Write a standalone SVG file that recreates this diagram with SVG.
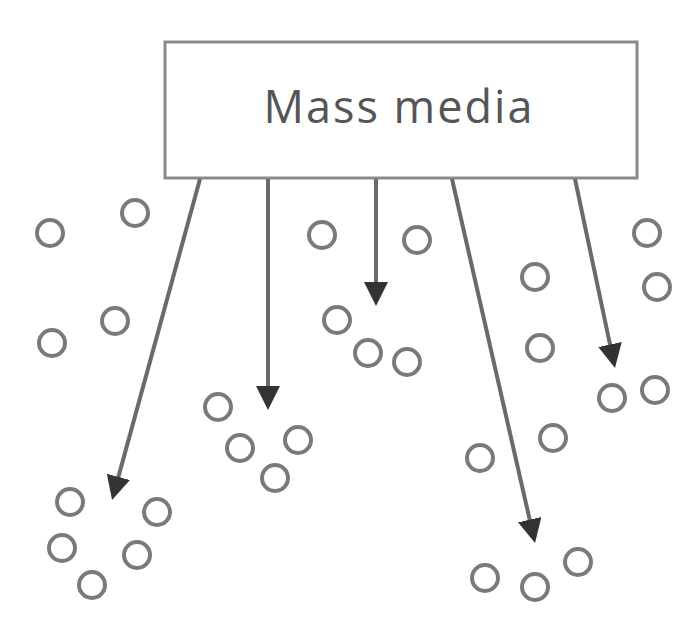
<svg xmlns="http://www.w3.org/2000/svg" width="682" height="633" viewBox="0 0 682 633">
  <style>
    .box { fill: #ffffff; stroke: #8a8a8a; stroke-width: 3; }
    .label { font-family: "Open Sans", "Liberation Sans", sans-serif; font-size: 45px; letter-spacing: 2px; fill: #555555; text-anchor: middle; }
    .flow { stroke: #6a6a6a; stroke-width: 4; fill: none; marker-end: url(#head); }
    .person { fill: #ffffff; stroke: #7a7a7a; stroke-width: 4; }
  </style>
  <defs>
    <marker id="head" markerUnits="userSpaceOnUse" markerWidth="24" markerHeight="24" refX="14" refY="12" orient="auto">
      <path d="M0,0 L24,12 L0,24 z" fill="#333333"/>
    </marker>
  </defs>
  <rect width="682" height="633" fill="#ffffff"/>

  <g id="mass-media">
    <rect class="box" x="165" y="42" width="472" height="136"/>
    <text class="label" x="399" y="123">Mass media</text>
  </g>

  <g id="connectors">
    <line class="flow" x1="200" y1="179" x2="114.7" y2="490.4"/>
    <line class="flow" x1="268" y1="179" x2="268" y2="400"/>
    <line class="flow" x1="376" y1="179" x2="376" y2="296"/>
    <line class="flow" x1="452" y1="179" x2="532.8" y2="533.3"/>
    <line class="flow" x1="575" y1="179" x2="612.9" y2="358.2"/>
  </g>

  <g id="audience">
    <circle class="person" cx="50" cy="233" r="13"/>
    <circle class="person" cx="135" cy="213" r="13"/>
    <circle class="person" cx="115" cy="321" r="13"/>
    <circle class="person" cx="52" cy="343" r="13"/>
    <circle class="person" cx="218" cy="407" r="13"/>
    <circle class="person" cx="240" cy="448" r="13"/>
    <circle class="person" cx="298" cy="440" r="13"/>
    <circle class="person" cx="275" cy="478" r="13"/>
    <circle class="person" cx="70" cy="502" r="13"/>
    <circle class="person" cx="157" cy="512" r="13"/>
    <circle class="person" cx="62" cy="548" r="13"/>
    <circle class="person" cx="137" cy="555" r="13"/>
    <circle class="person" cx="92" cy="585" r="13"/>
    <circle class="person" cx="322" cy="235" r="13"/>
    <circle class="person" cx="417" cy="240" r="13"/>
    <circle class="person" cx="337" cy="320" r="13"/>
    <circle class="person" cx="368" cy="353" r="13"/>
    <circle class="person" cx="407" cy="362" r="13"/>
    <circle class="person" cx="535" cy="277" r="13"/>
    <circle class="person" cx="540" cy="348" r="13"/>
    <circle class="person" cx="647" cy="233" r="13"/>
    <circle class="person" cx="657" cy="287" r="13"/>
    <circle class="person" cx="612" cy="398" r="13"/>
    <circle class="person" cx="655" cy="390" r="13"/>
    <circle class="person" cx="553" cy="438" r="13"/>
    <circle class="person" cx="480" cy="458" r="13"/>
    <circle class="person" cx="578" cy="562" r="13"/>
    <circle class="person" cx="485" cy="578" r="13"/>
    <circle class="person" cx="535" cy="587" r="13"/>
  </g>
</svg>
